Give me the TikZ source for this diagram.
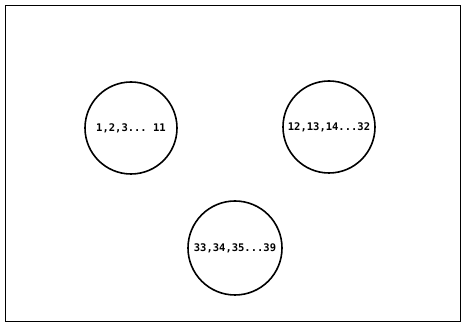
\documentclass[tikz,border=0pt]{standalone}
\usepackage{fontspec}
\setmonofont{DejaVu Sans Mono}
\usepackage{tikz}
\tikzset{
  grp/.style={circle,draw=black,line width=1.6pt,minimum size=92pt,inner sep=0pt,
    font=\ttfamily\bfseries\fontsize{10.5}{12}\selectfont},
}

\begin{document}
\begin{tikzpicture}[x=1pt,y=1pt]
\useasboundingbox (0,0) rectangle (461,326);
% frame
\draw[line width=1pt] (5,4) rectangle (460,320);
% groups
\node[grp] (grpA) at (131,198){1,2,3... 11};
\node[grp] (grpB) at (329,199){12,13,14...32};
\node[grp,minimum size=94pt] (grpC) at (235,78){33,34,35...39};
\end{tikzpicture}
\end{document}
